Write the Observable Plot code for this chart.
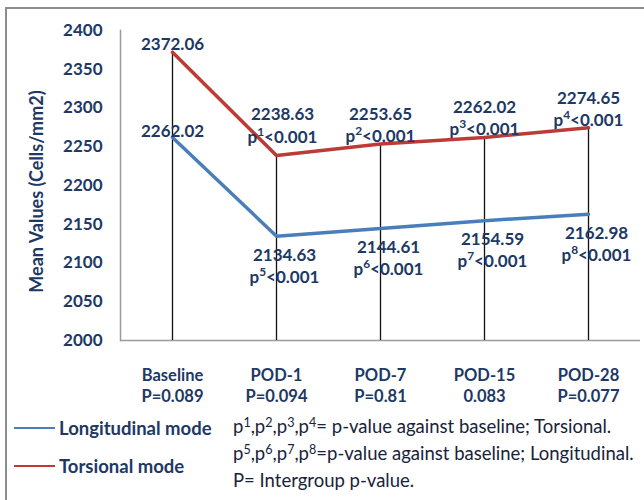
<!DOCTYPE html>
<html><head><meta charset="utf-8">
<script src="https://cdn.jsdelivr.net/npm/d3@7"></script>
<script src="https://cdn.jsdelivr.net/npm/@observablehq/plot@0.6"></script>
<style>
body{margin:0;background:#fff;font-family:Lato,"Open Sans",sans-serif;overflow:hidden;width:644px;height:500px;}
#frame{position:absolute;left:5px;top:7px;width:700px;height:600px;border:2px solid #8c8c8c;}
#chart{position:absolute;left:0;top:0;}
.sw{position:absolute;left:14px;width:41px;height:2px;}
.ln{position:absolute;left:59px;font-weight:bold;font-size:18.5px;color:#203864;line-height:24px;}
.nt{position:absolute;left:233px;font-size:18.5px;color:#18233a;line-height:27px;top:413px;white-space:nowrap;}
.nt sup{font-size:0.68em;line-height:0;vertical-align:0.45em;}
</style></head><body>
<div id="frame"></div>
<div id="chart"></div>
<div class="sw" style="top:427px;background:#4a7ebb"></div>
<div class="ln" style="top:416px">Longitudinal mode</div>
<div class="sw" style="top:465px;background:#be3a36"></div>
<div class="ln" style="top:454px">Torsional mode</div>
<div class="nt">p<sup>1</sup>,p<sup>2</sup>,p<sup>3</sup>,p<sup>4</sup>= p-value against baseline; Torsional.<br>p<sup>5</sup>,p<sup>6</sup>,p<sup>7</sup>,p<sup>8</sup>=p-value against baseline; Longitudinal.<br>P= Intergroup p-value.</div>
<script>
const categories = ["Baseline","POD-1","POD-7","POD-15","POD-28"];
const intergroupP = ["P=0.089","P=0.094","P=0.81","0.083","P=0.077"];
const torsional = [2372.06, 2238.63, 2253.65, 2262.02, 2274.65];
const longitudinal = [2262.02, 2134.63, 2144.61, 2154.59, 2162.98];
const torsionalP = ["", "p¹<0.001", "p²<0.001", "p³<0.001", "p⁴<0.001"];
const longitudinalP = ["", "p⁵<0.001", "p⁶<0.001", "p⁷<0.001", "p⁸<0.001"];
const yTicks = [2000,2050,2100,2150,2200,2250,2300,2350,2400];
const yTitle = "Mean Values (Cells/mm2)";

const rows = categories.map((c,i)=>({cat:c, t:torsional[i], l:longitudinal[i],
  tl: i===0 ? torsional[i].toFixed(2) : torsional[i].toFixed(2)+"\n"+torsionalP[i],
  ll: i===0 ? longitudinal[i].toFixed(2) : longitudinal[i].toFixed(2)+"\n"+longitudinalP[i], i}));

const navy = "#203864";
const lab = {fontSize: 17, fontWeight: "bold", fill: navy, lineHeight: 1.3};
const chart = Plot.plot({
  width: 644, height: 410,
  marginLeft: 120, marginRight: 4, marginTop: 30, marginBottom: 70,
  style: {fontFamily: "Lato, sans-serif", background: "transparent"},
  x: {type: "point", domain: categories, padding: 0.5},
  y: {domain: [2000, 2400]},
  marks: [
    Plot.axisY({ticks: yTicks, tickSize: 0, tickPadding: 18, fontSize: 17, fontWeight: "bold", fill: navy, label: null, tickFormat: d=>String(d)}),
    Plot.axisX({tickSize: 0, tickPadding: 25, fontSize: 16.5, fontWeight: "bold", fill: navy, label: null, lineHeight: 1.28,
      tickFormat: (d)=> d + "\n" + intergroupP[categories.indexOf(d)]}),
    Plot.frame({anchor: "left", stroke: "#9a9a9a", strokeWidth: 1.5}),
    Plot.ruleY([2000], {stroke: "#9a9a9a", strokeWidth: 1.5}),
    Plot.ruleX(rows, {x: "cat", y1: 2000, y2: "t", stroke: "#111", strokeWidth: 1.3}),
    Plot.line(rows, {x: "cat", y: "l", stroke: "#4a7ebb", strokeWidth: 3.5}),
    Plot.line(rows, {x: "cat", y: "t", stroke: "#be3a36", strokeWidth: 3.5}),
    Plot.text(rows.filter(d=>d.i!==1), {x: "cat", y: "t", text: "tl", lineAnchor: "bottom", dy: -2, ...lab}),
    Plot.text(rows.filter(d=>d.i===1), {x: "cat", y: "t", text: "tl", lineAnchor: "bottom", dy: -13, dx: 6, ...lab}),
    Plot.text(rows.filter(d=>d.i===0), {x: "cat", y: "l", text: "ll", lineAnchor: "bottom", dy: 0, ...lab}),
    Plot.text(rows.filter(d=>d.i>0), {x: "cat", y: "l", text: "ll", lineAnchor: "top", dy: 9, dx: 8, ...lab}),
    Plot.text([yTitle], {frameAnchor: "left", textAnchor: "middle", rotate: -90, dx: -83, dy: 6, fontSize: 18, fontWeight: "bold", fill: navy})
  ]
});
// render superscript characters as raised normal digits (still real text)
const supMap = {"¹":"1","²":"2","³":"3","⁴":"4","⁵":"5","⁶":"6","⁷":"7","⁸":"8"};
const NS = "http://www.w3.org/2000/svg";
chart.querySelectorAll("tspan").forEach(ts => {
  const s = ts.textContent;
  if (!/[¹²³⁴⁵⁶⁷⁸]/.test(s)) return;
  ts.textContent = "";
  for (const part of s.split(/([¹²³⁴⁵⁶⁷⁸])/)) {
    if (!part) continue;
    const t = document.createElementNS(NS, "tspan");
    if (supMap[part]) {
      t.textContent = supMap[part];
      t.setAttribute("font-size", "70%");
      t.setAttribute("baseline-shift", "super");
    } else t.textContent = part;
    ts.appendChild(t);
  }
});
document.getElementById("chart").appendChild(chart);
</script>
</body></html>
